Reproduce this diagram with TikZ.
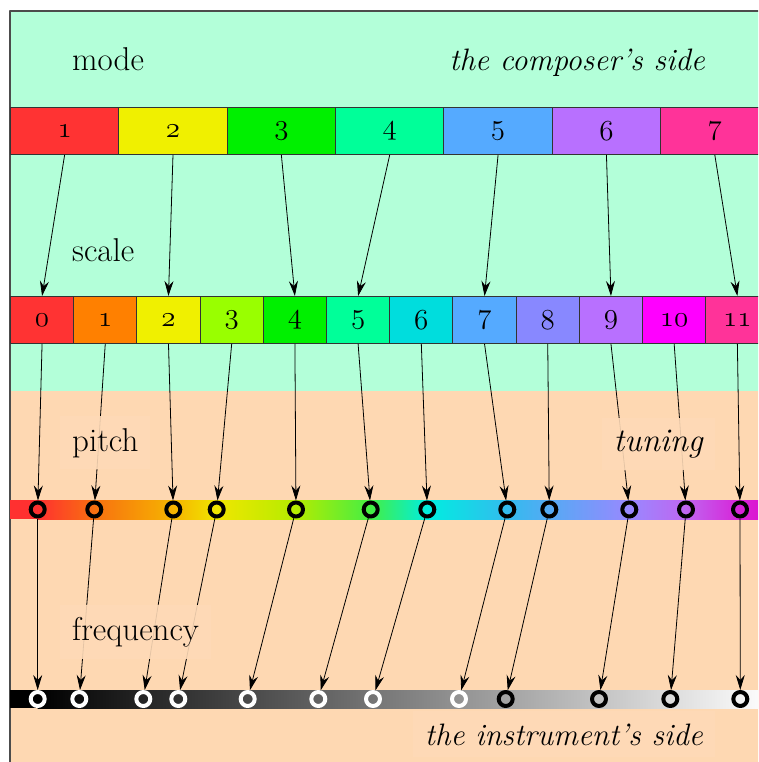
\documentclass[tikz,border=0pt]{standalone}
\usepackage{fix-cm}
\usepackage{fontspec}
\usetikzlibrary{arrows.meta}

% old style figures for the box labels
\newcommand\osf[1]{{\usefont{OML}{cmm}{m}{it}#1}}

% regions
\definecolor{mint}{HTML}{B3FFD9}
\definecolor{peach}{HTML}{FED8B2}
% scale degrees (the modes reuse some of them)
\definecolor{c0}{HTML}{FF3333}
\definecolor{c1}{HTML}{FF8000}
\definecolor{c2}{HTML}{F0F000}
\definecolor{c3}{HTML}{99FF00}
\definecolor{c4}{HTML}{00F000}
\definecolor{c5}{HTML}{00FF99}
\definecolor{c6}{HTML}{00DDDD}
\definecolor{c7}{HTML}{55AAFF}
\definecolor{c8}{HTML}{8888FF}
\definecolor{c9}{HTML}{B870FF}
\definecolor{c10}{HTML}{FF00FF}
\definecolor{c11}{HTML}{FF3399}
% pitch line
\definecolor{p0}{HTML}{FF3030}
\definecolor{p1}{HTML}{F87010}
\definecolor{p2}{HTML}{F6B400}
\definecolor{p3}{HTML}{F0E600}
\definecolor{p4}{HTML}{B4EC00}
\definecolor{p5}{HTML}{44EE44}
\definecolor{p6}{HTML}{00EEE0}
\definecolor{p7}{HTML}{33BBEE}
\definecolor{p8}{HTML}{55AAF4}
\definecolor{p9}{HTML}{9988FF}
\definecolor{p10}{HTML}{BF66F0}
\definecolor{p11}{HTML}{D822D8}
\definecolor{pend}{HTML}{DD10CC}

\begin{document}
\begin{tikzpicture}[x=1pt, y=-1pt, line join=round, >={Stealth[length=15pt,width=9pt,inset=5pt]},
    box/.style={draw=black!80, line width=.9pt, minimum height=47pt, inner sep=0pt, anchor=north west, font=\fontsize{29}{34}\selectfont},
    ring/.style={circle, draw, line width=4pt, minimum size=14pt, inner sep=0pt},
    link/.style={->, line width=.8pt},
    tag/.style={inner sep=12pt, fill opacity=.9, text opacity=1, font=\fontsize{33}{40}\selectfont},
    tagit/.style={tag, font=\fontsize{31}{37}\selectfont\itshape}]
    \useasboundingbox (0,0) rectangle (758,762);
    \clip (0,0) rectangle (758,762);
    \def\mw{108.36}\def\sw{63.21}
    % the two sides
    \fill[mint] (10,11) rectangle (800,391);
    \fill[peach] (10,391) rectangle (800,800);
    \draw[black!70, line width=1.2pt] (10,11) rectangle (800,800);
    % modes and scale degrees
    \foreach \i [count=\n] in {0,2,4,5,7,9,11}
        \node[box, minimum width=\mw, fill=c\i] (m\n) at ({10+(\n-1)*\mw},107) {\osf{\n}};
    \foreach \i in {0,...,11}
        \node[box, minimum width=\sw, fill=c\i] (s\i) at ({10+\i*\sw},296) {\osf{\i}};
    % pitch line
    \fill[p0] (10,500) rectangle (37.7,519);
    \foreach \xa/\xb/\ca/\cb in {37.7/94.3/p0/p1, 94.3/173.3/p1/p2, 173.3/216.7/p2/p3, 216.7/296/p3/p4,
            296/370.7/p4/p5, 370.7/427.3/p5/p6, 427.3/507.3/p6/p7, 507.3/549.3/p7/p8,
            549.3/629.3/p8/p9, 629.3/686/p9/p10, 686/740/p10/p11, 740/770/p11/pend}
        \shade[left color=\ca, right color=\cb] (\xa-.3,500) rectangle (\xb+.3,519);
    % frequency line
    \fill[black] (10,690) rectangle (37.7,708.3);
    \shade[left color=black, right color=white] (37.7,690) rectangle (770,708.3);
    \foreach \x [count=\i from 0] in {37.7,94.3,173.3,216.7,296,370.7,427.3,507.3,549.3,629.3,686,740}
        \node[ring] (p\i) at (\x,509.5) {};
    \foreach \x [count=\i from 0] in {37.7,79.3,143.3,178.3,247.7,318.3,373,459}
        \node[ring, draw=white] (f\i) at (\x,699) {};
    \foreach \x [count=\i from 8] in {505.7,599,670.3,740.3}
        \node[ring] (f\i) at (\x,699) {};
    % mappings
    \foreach \i/\n in {0/1,2/2,4/3,5/4,7/5,9/6,11/7}
        \draw[link] (m\n.south) -- (s\i.north);
    \foreach \i in {0,...,11}{
        \draw[link] (s\i.south) -- (p\i);
        \draw[link] (p\i) -- (f\i);
    }
    % labels
    \node[tag, fill=mint, anchor=base west] (mode) at (60,71) {mode};
    \node[tagit, fill=mint, anchor=base east] (composer) at (717,71) {the composer's side};
    \node[tag, fill=mint, anchor=base west] (scale) at (60,261) {scale};
    \node[tag, fill=peach!94!white, anchor=base west] (pitch) at (60,451) {pitch};
    \node[tagit, fill=peach!94!white, anchor=base east, font=\fontsize{33}{40}\selectfont\itshape] (tuning) at (715,451) {tuning};
    \node[tag, fill=peach!94!white, anchor=base west] (frequency) at (60,640) {frequency};
    \node[tagit, fill=peach!94!white, anchor=base east] (instrument) at (715,745) {the instrument's side};
\end{tikzpicture}
\end{document}
